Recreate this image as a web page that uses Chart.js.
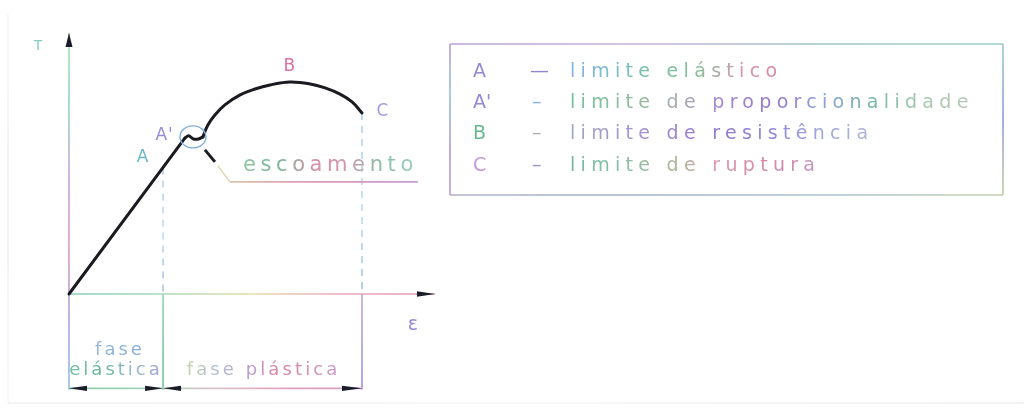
<!DOCTYPE html>
<html>
<head>
<meta charset="utf-8">
<script src="https://cdn.jsdelivr.net/npm/chart.js@4/dist/chart.umd.min.js"></script>
<style>
  html, body { margin: 0; padding: 0; background: #fff; }
  #wrap { width: 1032px; height: 413px; }
</style>
</head>
<body>
<div id="wrap"><canvas id="chart" width="1032" height="413"></canvas></div>
<script>
// curva tensão x deformação (unidades arbitrárias)
const elasticStrain = [0, 3.96];
const elasticStress = [0, 7.36];
const yieldStrain = [3.96, 4.08, 4.25, 4.42, 4.57];
const yieldStress = [7.36, 7.46, 7.31, 7.31, 7.41];
const plasticStrain = [4.57, 4.74, 4.98, 5.32, 5.84, 6.35, 6.86, 7.54, 8.23, 8.74, 9.25, 9.66, 10.0];
const plasticStress = [7.41, 7.97, 8.44, 8.92, 9.39, 9.67, 9.86, 10.0, 9.91, 9.72, 9.43, 9.06, 8.54];

// pontos notáveis
const limitNames = ['A', "A'", 'B', 'C'];
const limitStrain = [3.21, 4.08, 7.54, 10.0];
const limitStress = [5.97, 7.46, 10.0, 8.54];
const limitDesc = ['limite elástico', 'limite de proporcionalidade', 'limite de resistência', 'limite de ruptura'];

// eixos e fases
const axisLabels = ['T', 'ε'];
const phaseNames = ['fase', 'elástica', 'fase plástica'];
const yieldLabel = 'escoamento';
const axisTop = 12.31, axisRight = 12.49, dimLevel = -4.45, bottomLevel = -4.5;

const toPts = (xs, ys) => xs.map((x, i) => ({x: x, y: ys[i]}));

const FONT = '"DejaVu Sans", sans-serif';

function gradText(ctx, text, x, y, colors, font, spacing, align) {
  ctx.font = font;
  ctx.letterSpacing = spacing + 'px';
  const w = ctx.measureText(text).width;
  let x0 = x;
  if (align === 'center') x0 = x - w / 2;
  if (align === 'right') x0 = x - w;
  const g = ctx.createLinearGradient(x0, 0, x0 + w, 0);
  colors.forEach((c, i) => g.addColorStop(colors.length === 1 ? 0 : i / (colors.length - 1), c));
  ctx.fillStyle = g;
  ctx.textAlign = 'left';
  ctx.textBaseline = 'middle';
  ctx.fillText(text, x0, y);
  ctx.letterSpacing = '0px';
}

function gradLine(ctx, x1, y1, x2, y2, colors, width, dash) {
  const g = ctx.createLinearGradient(x1, y1, x2, y2);
  colors.forEach((c, i) => g.addColorStop(i / (colors.length - 1), c));
  ctx.strokeStyle = g;
  ctx.lineWidth = width;
  ctx.setLineDash(dash || []);
  ctx.beginPath();
  ctx.moveTo(x1, y1);
  ctx.lineTo(x2, y2);
  ctx.stroke();
  ctx.setLineDash([]);
}

function arrowHead(ctx, x, y, dir, len, half) {
  ctx.fillStyle = '#1b1b2a';
  ctx.beginPath();
  if (dir === 'up') {
    ctx.moveTo(x, y); ctx.lineTo(x - half, y + len); ctx.lineTo(x + half, y + len);
  } else if (dir === 'right') {
    ctx.moveTo(x, y); ctx.lineTo(x - len, y - half); ctx.lineTo(x - len, y + half);
  } else {
    ctx.moveTo(x, y); ctx.lineTo(x + len, y - half); ctx.lineTo(x + len, y + half);
  }
  ctx.closePath();
  ctx.fill();
}

const diagram = {
  id: 'diagram',
  beforeDraw(chart) {
    const ctx = chart.ctx;
    ctx.save();
    ctx.fillStyle = '#ffffff';
    ctx.fillRect(0, 0, chart.width, chart.height);
    // moldura apagada da digitalização
    gradLine(ctx, 8, 14, 8, 402, ['#f0f0f0', '#e6e6e6', '#f2f2f2'], 1);
    gradLine(ctx, 8, 403, 1024, 403, ['#e8e8e8', '#f0f0f0', '#e6e6e6'], 1);
    ctx.restore();
  },
  beforeDatasetsDraw(chart) {
    const ctx = chart.ctx, sx = chart.scales.x, sy = chart.scales.y;
    const px = v => sx.getPixelForValue(v), py = v => sy.getPixelForValue(v);
    ctx.save();
    const x0 = px(0), y0 = py(0);
    // eixo vertical
    gradLine(ctx, x0, py(bottomLevel), x0, py(axisTop), ['#98c0e8', '#b0a8e0', '#e0a0c0', '#c8a8e0', '#98d8c0', '#b0e0b8'], 1.7);
    // eixo horizontal
    gradLine(ctx, x0, y0, px(axisRight), y0, ['#88ccb8', '#a8d8b8', '#e4dca8', '#e8a8bc', '#e498b4'], 1.7);
    // linhas tracejadas dos limites A e C
    [0, 3].forEach(i => {
      gradLine(ctx, px(limitStrain[i]), py(limitStress[i]), px(limitStrain[i]), y0,
        ['#a0c4e8', '#b4d4f0', '#8cb4e0'], 1.3, [7, 6]);
    });
    // linhas de cota abaixo do eixo
    gradLine(ctx, px(limitStrain[0]), y0, px(limitStrain[0]), py(bottomLevel), ['#98d4b8', '#78c4a0'], 1.7);
    gradLine(ctx, px(limitStrain[3]), y0, px(limitStrain[3]), py(bottomLevel), ['#c4a8e0', '#a098e0'], 1.7);
    gradLine(ctx, x0, py(dimLevel), px(limitStrain[3]), py(dimLevel), ['#88ccaa', '#a0d4b8', '#dcc4cc', '#e4a0bc', '#d4a0c4'], 1.7);
    ctx.restore();
  },
  afterDatasetsDraw(chart) {
    const ctx = chart.ctx, sx = chart.scales.x, sy = chart.scales.y;
    const px = v => sx.getPixelForValue(v), py = v => sy.getPixelForValue(v);
    ctx.save();
    const x0 = px(0), y0 = py(0);
    // setas dos eixos
    arrowHead(ctx, x0, py(axisTop), 'up', 14, 3.5);
    arrowHead(ctx, px(axisRight), y0, 'right', 18, 2.8);
    // setas da cota
    const yd = py(dimLevel), xa = px(limitStrain[0]), xc = px(limitStrain[3]);
    arrowHead(ctx, x0, yd, 'left', 18, 2.6);
    arrowHead(ctx, xa, yd, 'right', 18, 2.6);
    arrowHead(ctx, xa, yd, 'left', 18, 2.6);
    arrowHead(ctx, xc, yd, 'right', 20, 2.6);

    // círculo do escoamento
    const cx = px(4.23), cy = py(7.41);
    ctx.strokeStyle = '#80b0e4';
    ctx.lineWidth = 1.4;
    ctx.beginPath();
    ctx.ellipse(cx, cy, 13, 11, 0, 0, Math.PI * 2);
    ctx.stroke();
    // linha de chamada
    ctx.strokeStyle = '#1b1b22';
    ctx.lineWidth = 3;
    ctx.beginPath();
    ctx.moveTo(cx + 12, cy + 13);
    ctx.lineTo(cx + 22, cy + 25);
    ctx.stroke();
    gradLine(ctx, cx + 25, cy + 29, cx + 37, cy + 45, ['#dcd498', '#e4cca8'], 1.3);
    gradLine(ctx, cx + 37, cy + 45, cx + 225, cy + 45, ['#dcc4a8', '#dca0b8', '#d498c4', '#c4a0d4'], 1.7);
    gradText(ctx, yieldLabel, cx + 50, cy + 29, ['#94c4a0', '#78b898', '#d890a8', '#d098b0', '#88c0a8', '#a0d0c0'], '21px ' + FONT, 4.6, 'left');

    // rótulos dos pontos
    const lblOff = [[-20, -10], [-24, 0], [0, -15], [21, -1]];
    const lblCol = [['#68b8c8'], ['#9888dc', '#9090dc'], ['#dc70a0'], ['#a898e4']];
    limitNames.forEach((n, i) => {
      gradText(ctx, n, px(limitStrain[i]) + lblOff[i][0], py(limitStress[i]) + lblOff[i][1],
        lblCol[i], '17px ' + FONT, 1, 'center');
    });

    // rótulos dos eixos
    gradText(ctx, axisLabels[0], x0 - 31, py(axisTop) + 13, ['#88ccc0'], '14px ' + FONT, 0, 'center');
    gradText(ctx, axisLabels[1], px(axisRight) - 22, y0 + 31, ['#9888dc'], '19px ' + FONT, 0, 'center');

    // fases
    const xm = (x0 + xa) / 2;
    gradText(ctx, phaseNames[0], xm + 4, y0 + 56, ['#98b8dc', '#88b0d4'], '18px ' + FONT, 3, 'center');
    gradText(ctx, phaseNames[1], xm, y0 + 76, ['#78c0a0', '#68b898', '#98b8cc', '#a0a8d4'], '18px ' + FONT, 3, 'center');
    gradText(ctx, phaseNames[2], (xa + xc) / 2 + 1, y0 + 76, ['#c4d4a8', '#b0c0d4', '#b8a0d4', '#dc88a8', '#d490b4', '#c4a0d4'], '18px ' + FONT, 3.1, 'center');

    // quadro da legenda
    const bx = 450, by = 44, bw = 553, bh = 151;
    gradLine(ctx, bx, by, bx + bw, by, ['#bca0d4', '#c4b0d4', '#a0c4cc', '#a0ccc4'], 1.7);
    gradLine(ctx, bx + bw, by, bx + bw, by + bh, ['#a0ccd0', '#98a0dc', '#c4d4a8'], 1.7);
    gradLine(ctx, bx, by + bh, bx + bw, by + bh, ['#b0b0c4', '#a0b0cc', '#a8c4cc', '#c4ccb0'], 1.7);
    gradLine(ctx, bx, by, bx, by + bh, ['#bca0d4', '#98c4dc', '#b0a0d4', '#bca0cc'], 1.7);

    const rowY = [72, 103, 134, 166];
    const letterCol = [['#9888d4'], ['#9288dc'], ['#68b890'], ['#c498dc']];
    const dashCol = [['#9288d4'], ['#88b0e4'], ['#b0b0b8'], ['#a090cc']];
    const descCol = [
      ['#88b0e4', '#78c0cc', '#78c0a0', '#88c098', '#d498b0', '#dc88a0'],
      ['#78c0a0', '#88c098', '#a8b0a8', '#a888d4', '#9878cc', '#88a0dc', '#78b8a8', '#a8c8b0', '#b8c8b8'],
      ['#a0a8c0', '#a898d4', '#a088d4', '#9278cc', '#9288dc', '#a0a8dc', '#b0b8d4'],
      ['#78b8a0', '#88c0a8', '#a8b898', '#dc98b0', '#d488a8', '#c498c4']
    ];
    limitNames.forEach((n, i) => {
      gradText(ctx, n, 473, rowY[i], letterCol[i], '19px ' + FONT, 0, 'left');
      gradText(ctx, i === 0 ? '—' : '–', i === 0 ? 530 : 532, rowY[i], dashCol[i], '19px ' + FONT, 0, 'left');
      gradText(ctx, limitDesc[i], 570, rowY[i], descCol[i], '19px ' + FONT, 5.3, 'left');
    });
    ctx.restore();
  }
};

const curveStyle = { showLine: true, borderColor: '#1a1a20', borderWidth: 3, borderJoinStyle: 'round', borderCapStyle: 'round', pointRadius: 0 };

new Chart(document.getElementById('chart'), {
  type: 'scatter',
  data: {
    datasets: [
      Object.assign({ label: 'fase elástica', data: toPts(elasticStrain, elasticStress), tension: 0 }, curveStyle),
      Object.assign({ label: 'escoamento', data: toPts(yieldStrain, yieldStress), tension: 0.3 }, curveStyle),
      Object.assign({ label: 'fase plástica', data: toPts(plasticStrain, plasticStress), tension: 0.4 }, curveStyle)
    ]
  },
  options: {
    responsive: false,
    animation: false,
    layout: { padding: 0 },
    plugins: { legend: { display: false }, tooltip: { enabled: false } },
    scales: {
      x: { type: 'linear', display: false, min: -69 / 29.3, max: (1032 - 69) / 29.3 },
      y: { type: 'linear', display: false, min: -(413 - 294) / 21.2, max: 294 / 21.2 }
    }
  },
  plugins: [diagram]
});
</script>
</body>
</html>
